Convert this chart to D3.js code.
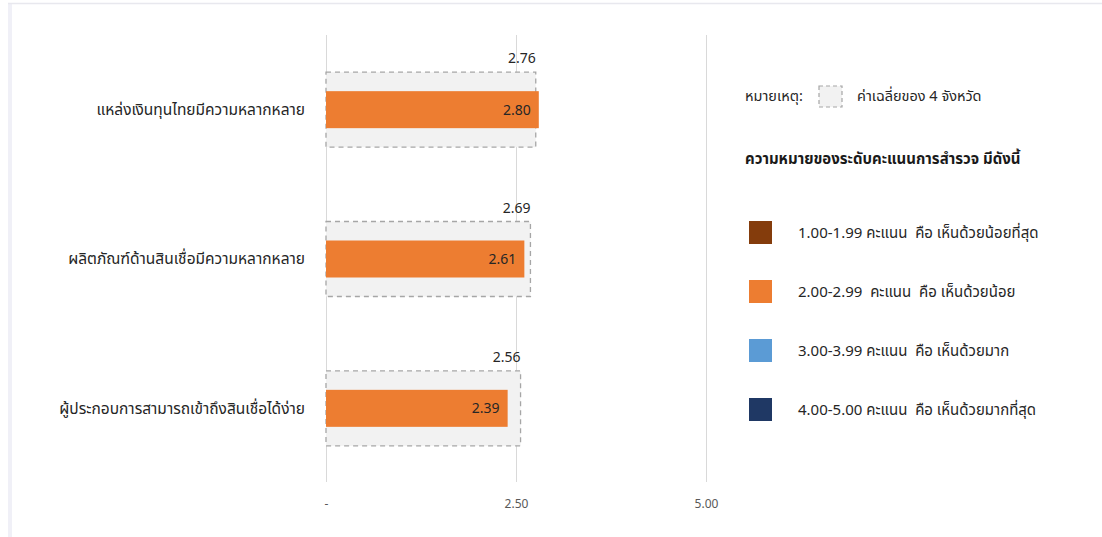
<!DOCTYPE html>
<html>
<head>
<meta charset="utf-8">
<script src="https://cdn.jsdelivr.net/npm/d3@7"></script>
<style>
html,body{margin:0;padding:0;background:#fff;}
svg{display:block;}
text{font-family:"Noto Sans Thai","Noto Sans","DejaVu Sans",sans-serif;white-space:pre;}
</style>
</head>
<body>
<svg id="chart" width="1102" height="537"></svg>
<script>
const categories = ["แหล่งเงินทุนไทยมีความหลากหลาย","ผลิตภัณฑ์ด้านสินเชื่อมีความหลากหลาย","ผู้ประกอบการสามารถเข้าถึงสินเชื่อได้ง่าย"];
const values = [2.80, 2.61, 2.39];
const averages = [2.76, 2.69, 2.56];
const ticks = [0, 2.5, 5];
const tickLabels = ["-", "2.50", "5.00"];
const legendNoteLabel = "หมายเหตุ:";
const legendNoteText = "ค่าเฉลี่ยของ 4 จังหวัด";
const legendTitle = "ความหมายของระดับคะแนนการสำรวจ มีดังนี้";
const legendLabels = ["1.00-1.99 คะแนน  คือ เห็นด้วยน้อยที่สุด","2.00-2.99  คะแนน  คือ เห็นด้วยน้อย","3.00-3.99 คะแนน  คือ เห็นด้วยมาก","4.00-5.00 คะแนน  คือ เห็นด้วยมากที่สุด"];
const legendColors = ["#843C0C","#ED7D31","#5B9BD5","#1F3864"];

const svg = d3.select("#chart");

// faint frame
svg.append("rect").attr("x",8).attr("y",3).attr("width",4).attr("height",534).attr("fill","#f0f0f7");
svg.append("line").attr("x1",8).attr("x2",1102).attr("y1",3.5).attr("y2",3.5).attr("stroke","#e8e8ee").attr("stroke-width",1.5);

const x = d3.scaleLinear().domain([0,5]).range([326,706]);
const y = d3.scaleBand().domain(categories).range([35,483]).paddingInner(0).paddingOuter(0);

// gridlines
svg.append("g").selectAll("line").data(ticks).join("line")
  .attr("x1",d=>x(d)+0.5).attr("x2",d=>x(d)+0.5)
  .attr("y1",35).attr("y2",482)
  .attr("stroke","#d9d9d9").attr("stroke-width",1);

// axis labels
const axis = d3.axisBottom(x).tickValues(ticks).tickFormat((d,i)=>tickLabels[i]).tickSize(0).tickPadding(0);
const ag = svg.append("g").attr("transform","translate(0,499)").call(axis);
ag.select(".domain").remove();
ag.selectAll("text").attr("fill","#595959").attr("font-size",12).attr("dy","0.71em")
  .attr("font-family","'Noto Sans','DejaVu Sans',sans-serif");

const bw = y.bandwidth();
const boxH = 75, barH = 37;

// average dashed boxes
svg.append("g").selectAll("rect").data(categories).join("rect")
  .attr("x",x(0)).attr("y",d=>y(d)+bw/2-boxH/2)
  .attr("width",(d,i)=>x(averages[i])-x(0)).attr("height",boxH)
  .attr("fill","#f2f2f2").attr("stroke","#a6a6a6").attr("stroke-width",1.3)
  .attr("stroke-dasharray","5,4");

// bars
svg.append("g").selectAll("rect").data(categories).join("rect")
  .attr("x",x(0)).attr("y",d=>y(d)+bw/2-barH/2)
  .attr("width",(d,i)=>x(values[i])-x(0)).attr("height",barH)
  .attr("fill","#ED7D31");

// average labels
svg.append("g").selectAll("text").data(categories).join("text")
  .attr("x",(d,i)=>x(averages[i])).attr("y",d=>y(d)+bw/2-boxH/2-9)
  .attr("text-anchor","end").attr("font-size",14).attr("fill","#262626")
  .text((d,i)=>averages[i].toFixed(2));

// value labels
svg.append("g").selectAll("text").data(categories).join("text")
  .attr("x",(d,i)=>x(values[i])-8).attr("y",d=>y(d)+bw/2)
  .attr("dy","0.35em").attr("text-anchor","end").attr("font-size",14).attr("fill","#262626")
  .text((d,i)=>values[i].toFixed(2));

// category labels
svg.append("g").selectAll("text").data(categories).join("text")
  .attr("x",305).attr("y",d=>y(d)+bw/2)
  .attr("dy","0.35em").attr("text-anchor","end").attr("font-size",15.5).attr("fill","#262626")
  .text(d=>d);

// legend note
svg.append("text").attr("x",745).attr("y",101).attr("font-size",14.5).attr("fill","#262626").text(legendNoteLabel);
svg.append("rect").attr("x",819).attr("y",86).attr("width",23).attr("height",21)
  .attr("fill","#f2f2f2").attr("stroke","#a6a6a6").attr("stroke-width",1.2).attr("stroke-dasharray","4,3");
svg.append("text").attr("x",857).attr("y",101).attr("font-size",14.5).attr("fill","#262626").text(legendNoteText);

svg.append("text").attr("x",745).attr("y",164).attr("font-size",15).attr("font-weight","bold").attr("fill","#1a1a1a").text(legendTitle);

const lg = svg.append("g").selectAll("g").data(legendLabels).join("g")
  .attr("transform",(d,i)=>`translate(749,${221+i*59})`);
lg.append("rect").attr("width",23).attr("height",23).attr("fill",(d,i)=>legendColors[i]);
lg.append("text").attr("x",49).attr("y",11.5).attr("dy","0.35em").attr("font-size",15).attr("fill","#262626").text(d=>d);
</script>
</body>
</html>
